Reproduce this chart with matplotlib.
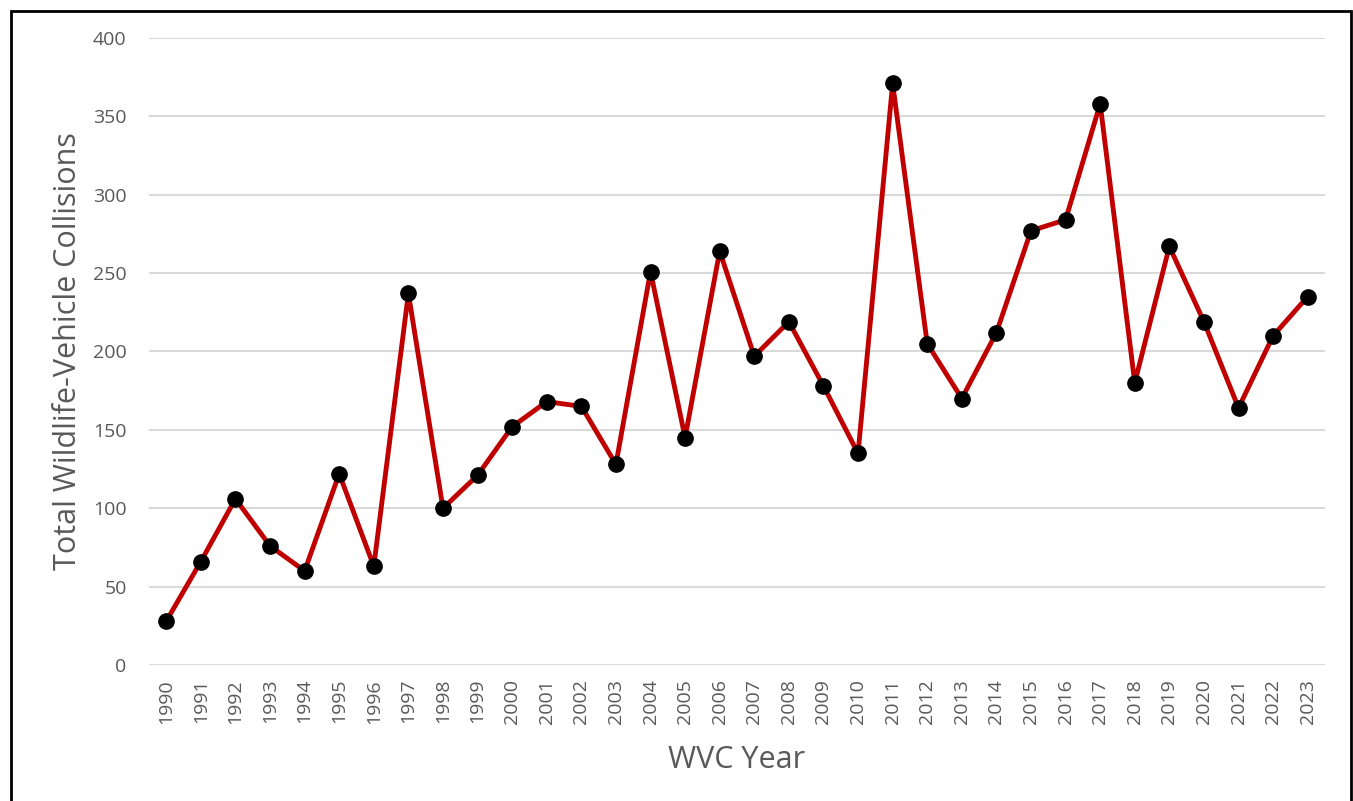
import matplotlib.pyplot as plt
from matplotlib.patches import Rectangle

years = list(range(1990, 2024))
wvc = [28, 66, 106, 76, 60, 122, 63, 237, 100, 121, 152, 168, 165, 128, 251, 145,
       264, 197, 219, 178, 135, 371, 205, 170, 212, 277, 284, 358, 180, 267, 219,
       164, 210, 235]

plt.rcParams['font.family'] = ['Open Sans', 'DejaVu Sans']
gray = '#595959'

fig = plt.figure(figsize=(13.53, 8.01), dpi=100)
ax = fig.add_axes([0.1101, 0.1698, 0.8692, 0.7828])

x = list(range(len(years)))
ax.plot(x, wvc, color='#C00000', lw=3.5, marker='o', ms=11,
        mfc='black', mec='black', zorder=3)

ax.set_xlim(-0.5, len(years) - 0.5)
ax.set_ylim(0, 400)
ax.set_yticks(range(0, 401, 50))
ax.set_xticks(x)
ax.set_xticklabels([str(y) for y in years], rotation=90)
ax.tick_params(axis='both', length=0, colors=gray, labelsize=14)
ax.tick_params(axis='x', pad=10)
ax.tick_params(axis='y', pad=16)
ax.grid(axis='y', color='#d9d9d9', lw=1.5)
ax.set_axisbelow(True)
for s in ax.spines.values():
    s.set_visible(False)

ax.set_ylabel('Total Wildlife-Vehicle Collisions', fontsize=22, color=gray, labelpad=7)
ax.set_xlabel('WVC Year', fontsize=22, color=gray, labelpad=15)

fig.patches.append(Rectangle((11 / 1353, -0.01), 1340 / 1353, 1 - 11 / 801 + 0.01,
                             transform=fig.transFigure, fill=False,
                             edgecolor='black', lw=2))

fig.savefig('out.png', dpi=100)
